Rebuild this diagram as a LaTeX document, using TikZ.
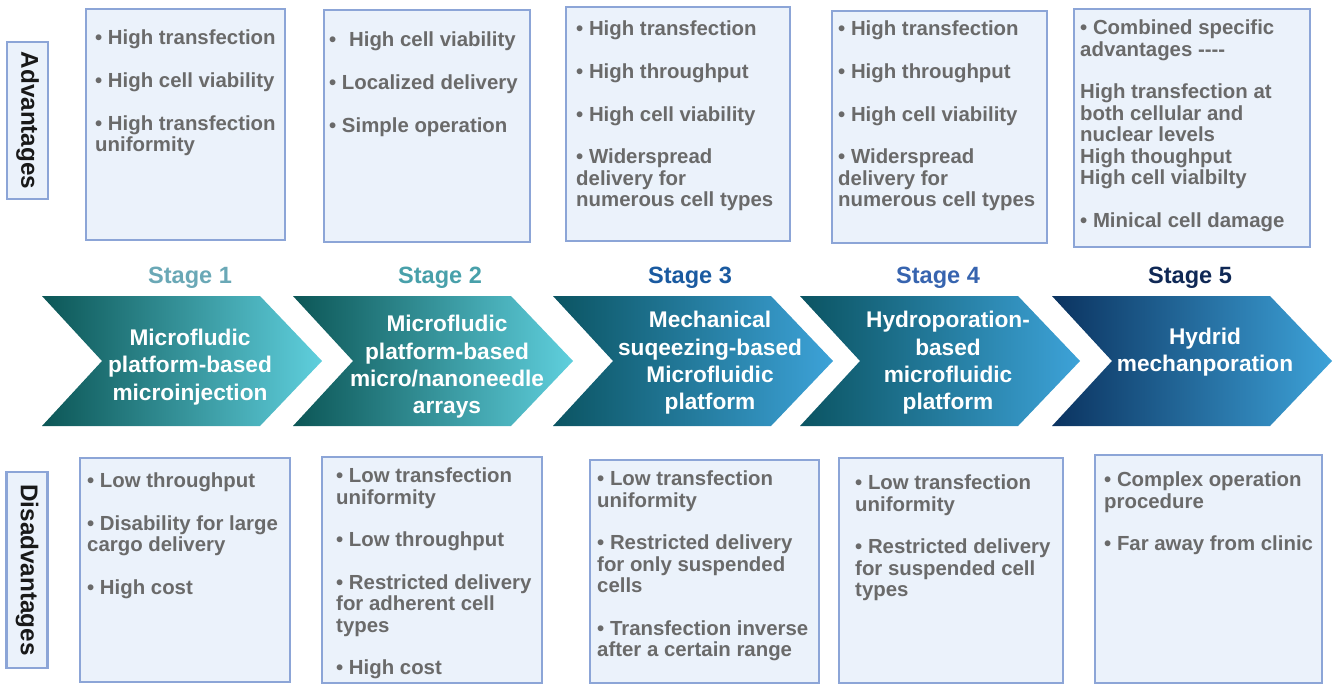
\documentclass[tikz,border=0pt]{standalone}
\usepackage{fontspec}
\setmainfont{Liberation Sans}
\usepackage{xcolor}
\usepackage{tikz}
\usetikzlibrary{positioning}

\definecolor{boxfill}{HTML}{EBF2FB}
\definecolor{boxline}{HTML}{8CA5D7}
\definecolor{itemgray}{HTML}{6A6A6A}
\definecolor{tealdark}{HTML}{0C5656}
\definecolor{teallight}{HTML}{5FCFDD}
\definecolor{bluedark}{HTML}{0B5462}
\definecolor{bluelight}{HTML}{3DA2D8}
\definecolor{navydark}{HTML}{0B3360}
\definecolor{stageone}{HTML}{6AA8B6}
\definecolor{stagetwo}{HTML}{48A0AA}
\definecolor{stagethree}{HTML}{1A5AA0}
\definecolor{stagefour}{HTML}{3764AF}
\definecolor{stagefive}{HTML}{0F2855}

\begin{document}
\begin{tikzpicture}[
    listbox/.style={rectangle, draw=boxline, fill=boxfill, line width=1.3pt, inner sep=0pt},
    sidebox/.style={listbox, rotate=-90, minimum height=0.82cm, font=\fontsize{13.8}{16}\selectfont\bfseries, text=black!90},
    itemtext/.style={anchor=north west, align=left, inner sep=0pt, text=itemgray, font=\fontsize{11.6}{12.2}\selectfont\bfseries},
    stagelabel/.style={anchor=base, font=\fontsize{13.4}{16}\selectfont\bfseries},
    stagetext/.style={align=center, text=white, font=\fontsize{12.9}{15.6}\selectfont\bfseries}
]
\useasboundingbox (0,0) rectangle (26.74,-13.68);

% Side labels
\node[sidebox, minimum width=3.14cm] (adv) at (0.55,-2.41) {Advantages};
\node[sidebox, minimum width=3.92cm] (dis) at (0.54,-11.40) {Disadvantages};

% Chevrons for the five stages
\foreach \x/\cl/\cr in {0.84/tealdark/teallight, 5.86/tealdark/teallight, 11.06/bluedark/bluelight, 16.00/bluedark/bluelight, 21.04/navydark/bluelight} {
    \shade[left color=\cl, right color=\cr] (\x,-5.92) -- ++(4.36,0) -- ++(1.24,-1.30) -- ++(-1.24,-1.30) -- ++(-4.36,0) -- ++(1.20,1.30) -- cycle;
}

% Stage numbers above the chevrons
\node[stagelabel, text=stageone] (st1) at (3.80,-5.66) {Stage 1};
\node[stagelabel, text=stagetwo] (st2) at (8.80,-5.66) {Stage 2};
\node[stagelabel, text=stagethree] (st3) at (13.80,-5.66) {Stage 3};
\node[stagelabel, text=stagefour] (st4) at (18.76,-5.66) {Stage 4};
\node[stagelabel, text=stagefive] (st5) at (23.80,-5.66) {Stage 5};

% Method names on the chevrons
\node[stagetext] (m1) at (3.80,-7.34) {Microfludic\\platform-based\\microinjection};
\node[stagetext] (m2) at (8.94,-7.34) {Microfludic\\platform-based\\micro/nanoneedle\\arrays};
\node[stagetext] (m3) at (14.20,-7.26) {Mechanical\\suqeezing-based\\Microfluidic\\platform};
\node[stagetext] (m4) at (18.96,-7.26) {Hydroporation-\\based\\microfluidic\\platform};
\node[stagetext] (m5) at (24.10,-7.04) {Hydrid\\mechanporation};

% Advantages (top row)
\node[listbox, minimum width=3.98cm, minimum height=4.62cm] (a1) at (3.71,-2.49) {};
\node[listbox, minimum width=4.12cm, minimum height=4.64cm] (a2) at (8.54,-2.52) {};
\node[listbox, minimum width=4.48cm, minimum height=4.68cm] (a3) at (13.56,-2.48) {};
\node[listbox, minimum width=4.30cm, minimum height=4.64cm] (a4) at (18.79,-2.54) {};
\node[listbox, minimum width=4.72cm, minimum height=4.76cm] (a5) at (23.84,-2.56) {};

\node[itemtext] (a1t) at ([shift={(0.20,-0.44)}]a1.north west) {• High transfection\\[12pt]• High cell viability\\[12pt]• High transfection\\uniformity};
\node[itemtext] (a2t) at ([shift={(0.12,-0.46)}]a2.north west) {•\hspace{0.35em} High cell viability\\[12pt]• Localized delivery\\[12pt]• Simple operation};
\node[itemtext] (a3t) at ([shift={(0.22,-0.30)}]a3.north west) {• High transfection\\[12pt]• High throughput\\[12pt]• High cell viability\\[12pt]• Widerspread\\delivery for\\numerous cell types};
\node[itemtext] (a4t) at ([shift={(0.14,-0.22)}]a4.north west) {• High transfection\\[12pt]• High throughput\\[12pt]• High cell viability\\[12pt]• Widerspread\\delivery for\\numerous cell types};
\node[itemtext] (a5t) at ([shift={(0.14,-0.24)}]a5.north west) {• Combined specific\\advantages -{}-{}-{}-\\[12pt]High transfection at\\both cellular and\\nuclear levels\\High thoughput\\High cell vialbilty\\[12pt]• Minical cell damage};

% Disadvantages (bottom row)
\node[listbox, minimum width=4.20cm, minimum height=4.48cm] (d1) at (3.70,-11.40) {};
\node[listbox, minimum width=4.40cm, minimum height=4.52cm] (d2) at (8.64,-11.40) {};
\node[listbox, minimum width=4.58cm, minimum height=4.46cm] (d3) at (14.09,-11.43) {};
\node[listbox, minimum width=4.48cm, minimum height=4.50cm] (d4) at (19.02,-11.41) {};
\node[listbox, minimum width=4.54cm, minimum height=4.56cm] (d5) at (24.17,-11.38) {};

\node[itemtext] (d1t) at ([shift={(0.16,-0.32)}]d1.north west) {• Low throughput\\[12pt]• Disability for large\\cargo delivery\\[12pt]• High cost};
\node[itemtext] (d2t) at ([shift={(0.30,-0.24)}]d2.north west) {• Low transfection\\uniformity\\[12pt]• Low throughput\\[12pt]• Restricted delivery\\for adherent cell\\types\\[12pt]• High cost};
\node[itemtext] (d3t) at ([shift={(0.16,-0.24)}]d3.north west) {• Low transfection\\uniformity\\[12pt]• Restricted delivery\\for only suspended\\cells\\[12pt]• Transfection inverse\\after a certain range};
\node[itemtext] (d4t) at ([shift={(0.34,-0.36)}]d4.north west) {• Low transfection\\uniformity\\[12pt]• Restricted delivery\\for suspended cell\\types};
\node[itemtext] (d5t) at ([shift={(0.20,-0.36)}]d5.north west) {• Complex operation\\procedure\\[12pt]• Far away from clinic};

\end{tikzpicture}
\end{document}
